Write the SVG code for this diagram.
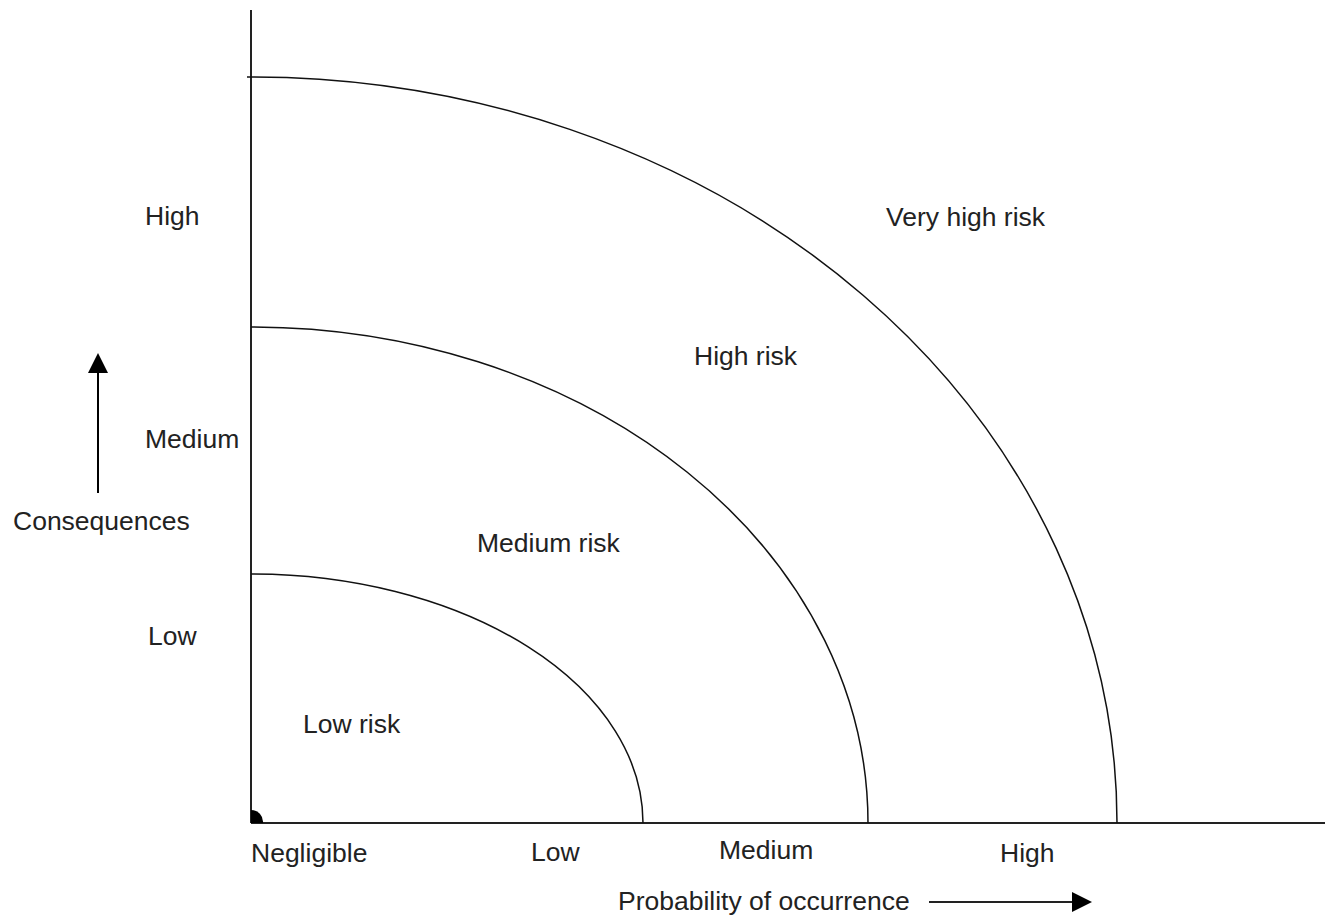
<svg xmlns="http://www.w3.org/2000/svg" width="1325" height="917" viewBox="0 0 1325 917">
<style>
text{font-family:"Liberation Sans",Arial,sans-serif;font-size:26.5px;fill:#222}
.ax{stroke:#222;stroke-width:2;fill:none}
.arc{stroke:#111;stroke-width:1.5;fill:none}
</style>
<defs>
<marker id="ah" viewBox="0 0 10 10" refX="9" refY="5" markerWidth="20" markerHeight="20" markerUnits="userSpaceOnUse" orient="auto">
<path d="M0,0 L10,5 L0,10 Z" fill="#000"/>
</marker>
</defs>
<rect width="1325" height="917" fill="#fff"/>
<g id="axes">
<line class="ax" x1="251" y1="10" x2="251" y2="823"/>
<line class="ax" x1="251" y1="823" x2="1325" y2="823"/>
<path d="M251,823 L251,810 A12,12 0 0 1 263,823 Z" fill="#000"/>
</g>
<g id="connectors">
<path class="arc" d="M247,77 L251,77 A866,746 0 0 1 1117,823"/>
<path class="arc" d="M251,327 A617,496 0 0 1 868,823"/>
<path class="arc" d="M251,574 A392,249 0 0 1 643,823"/>
<line x1="98" y1="493" x2="98" y2="355" stroke="#000" stroke-width="2" marker-end="url(#ah)"/>
<line x1="929" y1="902" x2="1090" y2="902" stroke="#222" stroke-width="2" marker-end="url(#ah)"/>
</g>
<g id="ylabels">
<text x="145" y="225">High</text>
<text x="145" y="448">Medium</text>
<text x="148" y="645">Low</text>
<text x="13" y="530">Consequences</text>
</g>
<g id="zones">
<text x="886" y="226">Very high risk</text>
<text x="694" y="365">High risk</text>
<text x="477" y="552">Medium risk</text>
<text x="303" y="733">Low risk</text>
</g>
<g id="xlabels">
<text x="251" y="862">Negligible</text>
<text x="531" y="861">Low</text>
<text x="719" y="859">Medium</text>
<text x="1000" y="862">High</text>
<text x="618" y="910">Probability of occurrence</text>
</g>
</svg>
